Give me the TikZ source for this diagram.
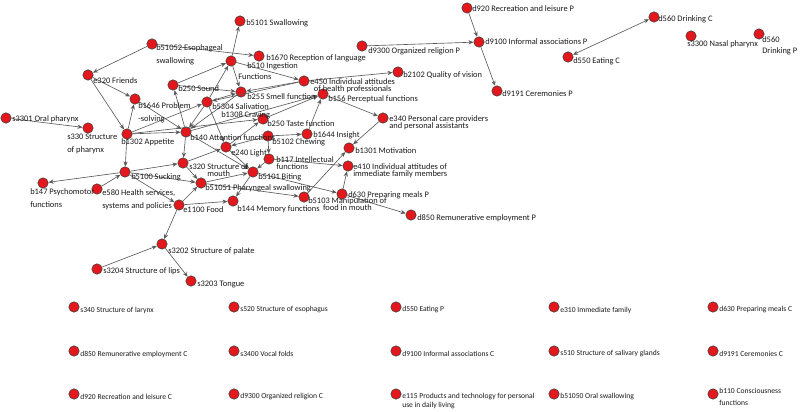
\documentclass[tikz,border=0pt]{standalone}
\usepackage{fontspec}
\setmainfont{Carlito}
\usetikzlibrary{arrows.meta}
\definecolor{dotred}{RGB}{228,24,28}
\tikzset{
  dot/.style={circle, draw=black!75, line width=0.4pt, fill=dotred, minimum size=2.6mm, inner sep=0pt},
  lbl/.style={anchor=west, inner sep=0pt, font=\fontsize{6}{6.4}\selectfont, text=black!90},
  gridlbl/.style={lbl, font=\fontsize{5.4}{6}\selectfont},
  link/.style={draw=black!65, line width=0.45pt, -{Stealth[length=3.6pt,width=3pt]}}
}
\begin{document}
\begin{tikzpicture}[x=0.025cm,y=-0.025cm]
    %initialisation
    \useasboundingbox (0,0) rectangle (800,412);
    %definitions
    \foreach \n/\px/\py in {swallow/240/21, b51052/152/44, e320/88/75, b1646/135/99,
        s3301/6/118, s330/88/128, b1302/127/134, b250s/173/85, b510/231/61,
        b1670/259/56, b255/241/92, b5304/207/102, b140/186/132, e450/304/81,
        b156/323/94, b2102/398/72, d9300/362/46, e340/383/118, b250t/263/119,
        b5102/268/136, b1644/307/134, e240/226/147, b117/269/159, b1301/349/148,
        e410/348/166, s320/183/163, biting/253/172, b51051/201/183, b5100/125/172,
        b147/43/183, e580/97/189, e1100/179/205, b144/233/201, b5103/304/197,
        d630/342/194, d850/411/215, s3202/162/244, s3204/97/269, s3203/191/281,
        d920/467/8, d9100/479/42, d9191/497/91, d560c/654/17, d550c/568/57,
        s3300/691/36, d560p/759/34}
      \node[dot] (\n) at (\px,\py) {};
    %drawing
    \foreach \a/\b in {b510/swallow, b51052/e320, b51052/b1670, b250s/b510, b5304/b510,
        e320/b1646, e320/b1302, b1302/b1646, s3301/s330, b1646/b140, b1302/b5304,
        b1302/b250t, b1302/b140, b1302/b5100, b5100/b147, b5100/s320, b5100/b51051,
        b140/s320, b140/b250s, b5304/b140, b255/b140, b510/b255, b510/e450,
        b250s/b255, e450/b255, e450/b5304, e450/b2102, b156/e340, b250t/b156,
        b140/b156, b1644/b156, b5102/b1644, e340/b1301, b5103/b1301, b117/e410,
        d630/e410, biting/d630, b51051/b5103, d630/d850, e1100/b144, e1100/s3202,
        s3204/s3202, s3202/s3203, e1100/b51051, e580/b5100, b5100/e1100,
        b51051/biting, biting/b144, e240/biting, b140/biting, s320/e240,
        s320/b51051, b117/biting, b5102/b117, b5102/e240, e240/b250t, b5304/e240,
        b5304/b255, d9300/d9100, d920/d9100, d9100/d9191}
      \draw[link] (\a) -- (\b);
    \draw[link, {Stealth[length=3.6pt,width=3pt]}-{Stealth[length=3.6pt,width=3pt]}] (d550c) -- (d560c);
    %label
    \node[lbl] (swallow-l) at (246,23) {b5101 Swallowing};
    \node[lbl, align=left] (b51052-l) at (156,54.5) {b51052 Esophageal\\[2.8pt]swallowing};
    \node[lbl] (e320-l) at (93,81) {e320 Friends};
    \node[lbl, align=left] (b1646-l) at (138,112.5) {b1646 Problem\\[2.8pt]-solving};
    \node[lbl] (s3301-l) at (12,119) {s3301 Oral pharynx};
    \node[lbl, align=left] (s330-l) at (67,143.5) {s330 Structure\\[2.8pt]of pharynx};
    \node[lbl] (b1302-l) at (121,142) {b1302 Appetite};
    \node[lbl] (b250s-l) at (178,89) {b250 Sound};
    \node[lbl] (b510-l) at (247,66) {b510 Ingestion};
    \node[lbl] (b510-m) at (238,77) {Functions};
    \node[lbl] (b1670-l) at (266,58) {b1670 Reception of language};
    \node[lbl] (b255-l) at (247,97) {b255 Smell function};
    \node[lbl] (b5304-l) at (212,107) {b5304 Salivation};
    \node[lbl] (b1308) at (221,115) {b1308 Craving};
    \node[lbl] (b140-l) at (190,138) {b140 Attention functions};
    \node[lbl, align=center] (e450-l) at (310,86) {e450 Individual attitudes\\[-1.4pt]of health professionals};
    \node[lbl] (b156-l) at (328,99) {b156 Perceptual functions};
    \node[lbl] (b2102-l) at (403,75) {b2102 Quality of vision};
    \node[lbl] (d9300-l) at (368,51) {d9300 Organized religion P};
    \node[lbl, align=left] (e340-l) at (389,122.5) {e340 Personal care providers\\[-1.4pt]and personal assistants};
    \node[lbl] (b250t-l) at (267,124) {b250 Taste function};
    \node[lbl] (b5102-l) at (272,142) {b5102 Chewing};
    \node[lbl] (b1644-l) at (313,135) {b1644 Insight};
    \node[lbl] (e240-l) at (231,153) {e240 Light};
    \node[lbl, align=left] (b117-l) at (276,163.5) {b117 Intellectual\\[-1.4pt]functions};
    \node[lbl] (b1301-l) at (355,151) {b1301 Motivation};
    \node[lbl, align=left] (e410-l) at (353,170.5) {e410 Individual attitudes of\\[-1.4pt]immediate family members};
    \node[lbl, align=center] (s320-l) at (189,170.5) {s320 Structure of\\[-1.4pt]mouth};
    \node[lbl] (biting-l) at (258,177) {b5101 Biting};
    \node[lbl] (b51051-l) at (205,188) {b51051 Pharyngeal swallowing};
    \node[lbl] (b5100-l) at (131,177) {b5100 Sucking};
    \node[lbl, align=left] (b147-l) at (30,198.5) {b147 Psychomotor\\[2.8pt]functions};
    \node[lbl, align=left] (e580-l) at (102,199.5) {e580 Health services,\\[2.8pt]systems and policies};
    \node[lbl] (e1100-l) at (183,210) {e1100 Food};
    \node[lbl] (b144-l) at (237,209) {b144 Memory functions};
    \node[lbl, align=center] (b5103-l) at (308,204.5) {b5103 Manipulation of\\[-1.4pt]food in mouth};
    \node[lbl] (d630-l) at (348,195) {d630 Preparing meals P};
    \node[lbl] (d850-l) at (417,218) {d850 Remunerative employment P};
    \node[lbl] (s3202-l) at (168,251) {s3202 Structure of palate};
    \node[lbl] (s3204-l) at (103,271) {s3204 Structure of lips};
    \node[lbl] (s3203-l) at (197,284) {s3203 Tongue};
    \node[lbl] (d920-l) at (472,9) {d920 Recreation and leisure P};
    \node[lbl] (d9100-l) at (485,42) {d9100 Informal associations P};
    \node[lbl] (d9191-l) at (502,94) {d9191 Ceremonies P};
    \node[lbl] (d560c-l) at (658,19) {d560 Drinking C};
    \node[lbl] (d550c-l) at (573,61) {d550 Eating C};
    \node[lbl] (s3300-l) at (687,44) {s3300 Nasal pharynx};
    \node[lbl, align=left] (d560p-l) at (762,46) {d560\\[1pt]Drinking P};
    %isolated codes
    \foreach \n/\px/\py/\txt in {s340/74/307/{s340 Structure of larynx},
        s520/234/307/{s520 Structure of esophagus}, d550p/396/307/{d550 Eating P},
        e310/554/307/{e310 Immediate family}, d630c/713/307/{d630 Preparing meals C},
        d850c/74/351/{d850 Remunerative employment C}, s3400/234/351/{s3400 Vocal folds},
        d9100c/396/351/{d9100 Informal associations C},
        s510/554/351/{s510 Structure of salivary glands}, d9191c/713/351/{d9191 Ceremonies C},
        d920c/74/394/{d920 Recreation and leisure C}, d9300c/234/394/{d9300 Organized religion C},
        b51050/554/394/{b51050 Oral swallowing}}
      \node[dot] (\n) at (\px,\py) {} node[gridlbl] (\n-l) at (\px+6,\py+3) {\txt};
    \node[dot] (e115) at (396,394) {};
    \node[gridlbl, align=left] (e115-l) at (402,401.5) {e115 Products and technology for personal\\[0.4pt]use in daily living};
    \node[dot] (b110) at (713,394) {};
    \node[gridlbl, align=left] (b110-l) at (719,397) {b110 Consciousness\\[2.2pt]functions};
\end{tikzpicture}
\end{document}
